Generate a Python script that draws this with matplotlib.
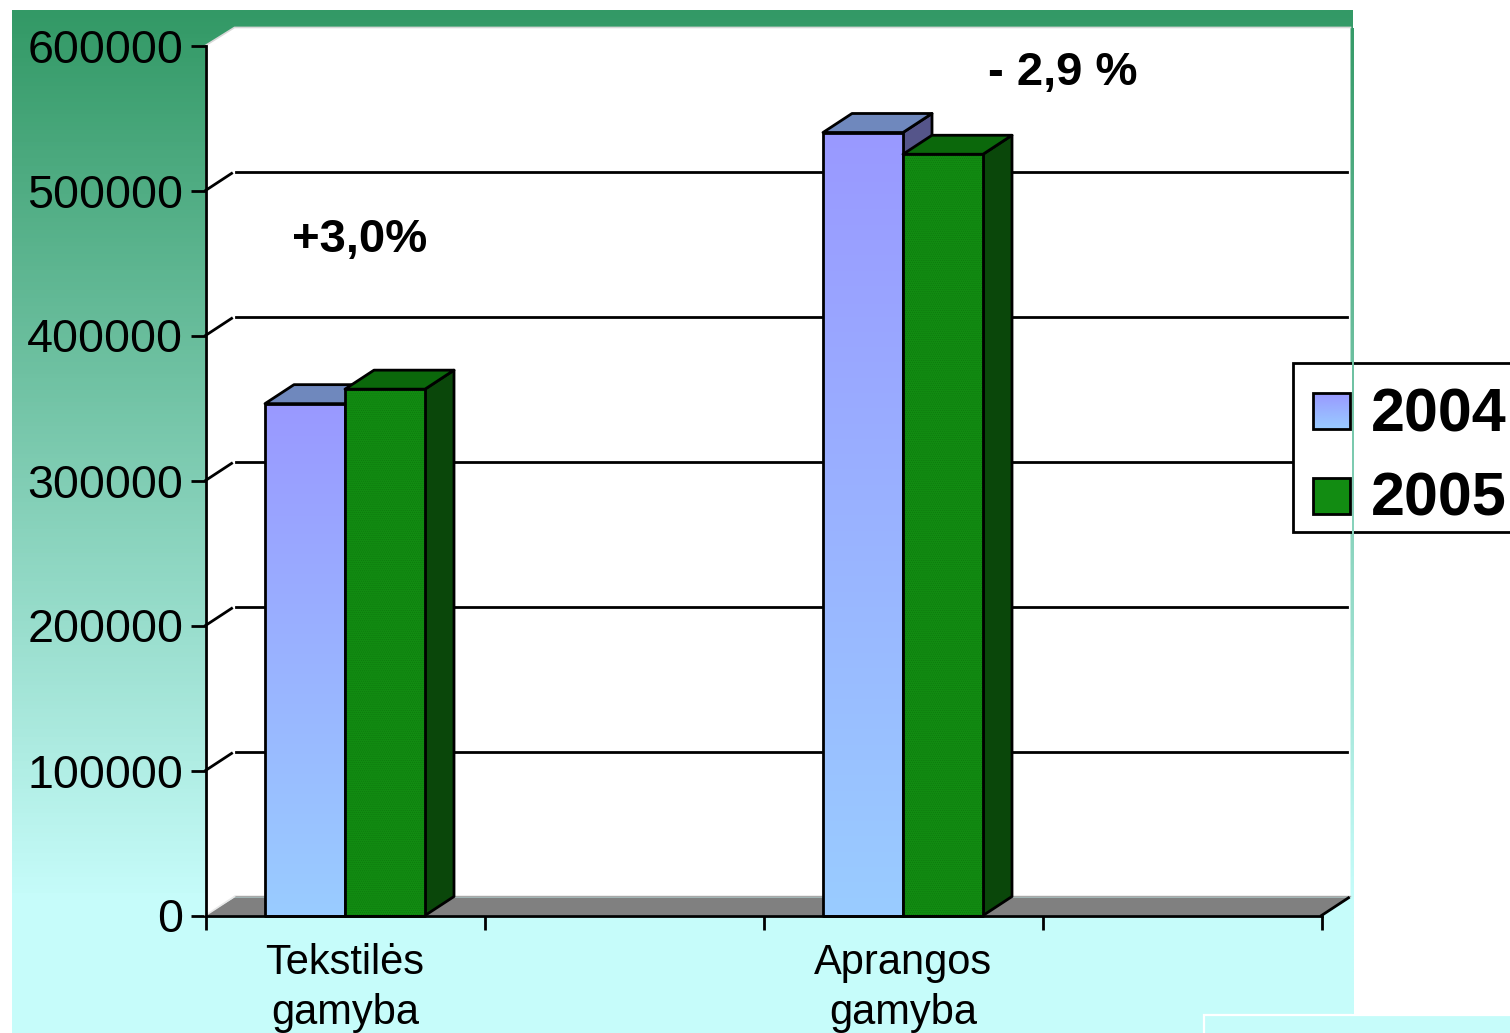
import numpy as np
import matplotlib
matplotlib.use("Agg")
import matplotlib.pyplot as plt
from matplotlib.colors import LinearSegmentedColormap
from matplotlib.patches import Polygon, Rectangle

categories = ["Tekstilės\ngamyba", "Aprangos\ngamyba"]
series_names = ["2004", "2005"]
values_2004 = [353000, 540000]
values_2005 = [363000, 525000]
y_ticks = [0, 100000, 200000, 300000, 400000, 500000, 600000]
notes = ["+3,0%", "- 2,9 %"]

W, H = 1510, 1033
plt.rcParams["font.family"] = ["Liberation Sans", "DejaVu Sans"]
plt.rcParams["hatch.linewidth"] = 0.5

# farbverlaeufe
bg_cmap = LinearSegmentedColormap.from_list("bg", ["#339966", "#c6fcfa"])
blue_cmap = LinearSegmentedColormap.from_list("blue", ["#9999ff", "#99ccff"])
ramp = np.linspace(0, 1, 256).reshape(-1, 1)

fig = plt.figure(figsize=(W / 100, H / 100), dpi=100, facecolor="white")


def px_axes(x0, y0, x1, y1):
    # axes from pixel box, y counted from the top of the picture
    return fig.add_axes([x0 / W, 1 - y1 / H, (x1 - x0) / W, (y1 - y0) / H])


bg = px_axes(12, 10, 1353, 1033)
bg.imshow(np.clip(ramp * 1.15, 0, 1), cmap=bg_cmap, vmin=0, vmax=1, aspect="auto")
bg.axis("off")

ax = px_axes(205.5, 45.5, 1321.5, 915.5)
ax.patch.set_visible(False)
ax.set_xlim(0, 4)
ax.set_ylim(0, 600000)

# 3D tiefe in datenwerten
DX = 29 / 279
DY = 19 / 870 * 600000
YMAX = y_ticks[-1]
BAR_W = 80 / 279
LW = 2.0

ax.add_patch(Polygon([(0, 0), (0, YMAX), (DX, YMAX + DY * 0.95), (4 + DX, YMAX + DY * 0.95), (4 + DX, DY), (DX, DY)],
                     closed=True, fc="white", ec="none", zorder=1, clip_on=False))
ax.plot([0, DX, 4 + DX], [YMAX, YMAX + DY * 0.95, YMAX + DY * 0.95], color="#d8d8d8", lw=1.2, zorder=1.2, clip_on=False)
ax.add_patch(Polygon([(0, 0), (DX, DY * 0.95), (4 + DX, DY * 0.95), (4, 0)],
                     closed=True, fc="#808080", ec="none", zorder=1.5, clip_on=False))
ax.plot([DX, 4 + DX * 0.97], [DY * 1.05, DY * 1.05], color="#a8a8a8", lw=1, zorder=1.6, clip_on=False)
ax.plot([4, 4 + DX * 0.93], [0, DY * 0.93], color="black", lw=LW, zorder=1.7, clip_on=False)
ax.plot([0, DX], [0, DY], color="#e8e8e8", lw=1.2, zorder=1.7, clip_on=False)

for v in y_ticks[1:-1]:
    ax.plot([0, DX * 0.9], [v, v + DY * 0.9], color="black", lw=LW, zorder=2, clip_on=False)
    ax.plot([DX * 1.05, 4 + DX * 0.88], [v + DY, v + DY], color="black", lw=LW, zorder=2, clip_on=False)


def draw_bar(x, val, front, top, side, z):
    style = dict(ec="black", lw=LW, joinstyle="round", clip_on=False, zorder=z)
    ax.add_patch(Polygon([(x + BAR_W, 0), (x + BAR_W + DX, DY), (x + BAR_W + DX, val + DY), (x + BAR_W, val)],
                         closed=True, fc=side, **style))
    ax.add_patch(Polygon([(x, val), (x + DX, val + DY), (x + BAR_W + DX, val + DY), (x + BAR_W, val)],
                         closed=True, fc=top, **style))
    if front == "gradient":
        ax.imshow(ramp, cmap=blue_cmap, aspect="auto", extent=(x, x + BAR_W, 0, val), zorder=z, clip_on=False)
        ax.set_xlim(0, 4)
        ax.set_ylim(0, 600000)
        ax.add_patch(Rectangle((x, 0), BAR_W, val, fc="none", **style))
    else:
        # feines punktmuster wie im original
        ax.add_patch(Rectangle((x, 0), BAR_W, val, fc=front, ec="#0d7a0d", hatch="........", lw=0,
                               clip_on=False, zorder=z))
        ax.add_patch(Rectangle((x, 0), BAR_W, val, fc="none", **style))


for i, center in enumerate([0.5, 2.5]):
    draw_bar(center - BAR_W, values_2004[i], "gradient", "#6f88bd", "#55558a", 3 + i)
    draw_bar(center, values_2005[i], "#128c12", "#0b680b", "#0a470a", 3.5 + i)

for s in ["top", "right"]:
    ax.spines[s].set_visible(False)
for s in ["left", "bottom"]:
    ax.spines[s].set_linewidth(LW)
    ax.spines[s].set_zorder(6)

ax.set_yticks(y_ticks)
ax.set_yticklabels([str(v) for v in y_ticks], fontsize=33.6)
ax.tick_params(axis="y", length=11, width=LW, pad=5)
ax.set_xticks([0, 1, 2, 3, 4])
ax.set_xticklabels([])
ax.tick_params(axis="x", which="major", length=10, width=LW)
ax.set_xticks([0.5, 2.5], minor=True)
ax.set_xticklabels(categories, minor=True, fontsize=30, linespacing=1.3)
ax.tick_params(axis="x", which="minor", length=0, pad=20)

# overlay in pixeln fuer legende und notizen
ov = fig.add_axes([0, 0, 1, 1], zorder=10)
ov.set_xlim(0, W)
ov.set_ylim(H, 0)
ov.axis("off")

ov.text(292, 252, notes[0], fontsize=34, fontweight="bold", va="baseline")
ov.text(988, 85, notes[1], fontsize=34, fontweight="bold", va="baseline")

ov.add_patch(Rectangle((1293, 363), 230, 169, fc="white", ec="black", lw=LW))
ov.imshow(ramp, cmap=blue_cmap, aspect="auto", extent=(1313, 1350, 429, 393), zorder=11)
ov.set_xlim(0, W)
ov.set_ylim(H, 0)
ov.add_patch(Rectangle((1313, 393), 37, 36, fc="none", ec="black", lw=LW, zorder=12))
ov.add_patch(Rectangle((1313, 478), 37, 36, fc="#128c12", ec="black", lw=LW, zorder=12))
ov.text(1371, 431, series_names[0], fontsize=44, fontweight="bold", va="baseline", zorder=12)
ov.text(1371, 516, series_names[1], fontsize=44, fontweight="bold", va="baseline", zorder=12)

# kasten unten rechts
ov.add_patch(Rectangle((1204, 1015), 320, 30, fc="#c6fcfa", ec="white", lw=1.6, zorder=12))

# schmaler rand rechts laeuft ueber die legende
edge = fig.add_axes([1351.5 / W, 1 - 1014 / H, 1.5 / W, (1014 - 28) / H], zorder=13)
edge.imshow(np.clip(np.linspace(0.02, 1.13, 256).reshape(-1, 1), 0, 1), cmap=bg_cmap, vmin=0, vmax=1, aspect="auto")
edge.axis("off")

fig.savefig("out.png", dpi=100)
